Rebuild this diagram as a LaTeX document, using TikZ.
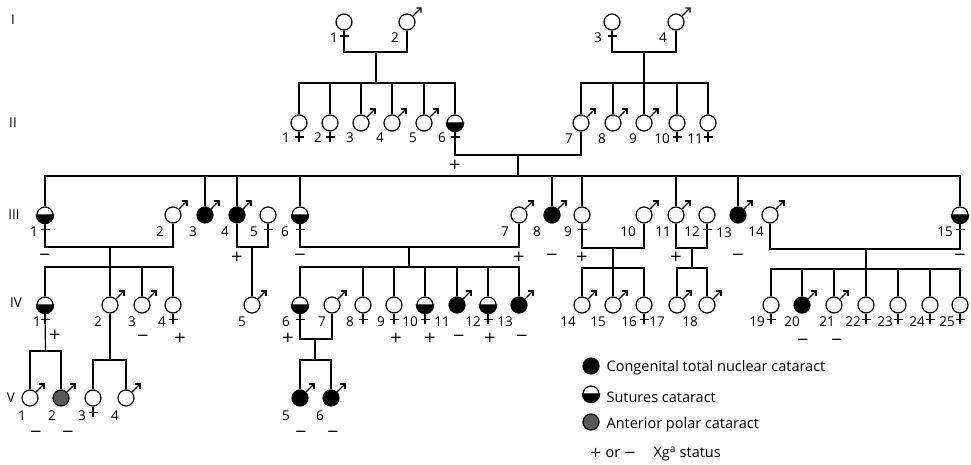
\documentclass[tikz,border=0pt]{standalone}
\usepackage{fontspec}
\setmainfont{Open Sans}
\newfontfamily\signfont{DejaVu Sans}
\usetikzlibrary{arrows.meta}

\tikzset{   person/.style={draw,circle,fill=white,minimum size=16pt,inner sep=0pt,line width=1.2pt},
            full/.style={person,fill=black},
            half/.style={person},
            polar/.style={person,fill=black!65},
            num/.style={inner sep=0pt,font=\fontsize{13.5}{15}\selectfont},
            keytext/.style={inner sep=0pt,anchor=west,font=\fontsize{14.5}{16}\selectfont},
            sign/.style={inner sep=0pt,font=\signfont\fontsize{15}{17}\selectfont},
}

\begin{document}
\begin{tikzpicture}[x=1pt,y=-1pt,line width=1.2pt]
    \useasboundingbox (0,0) rectangle (971,465);

    \node[num] (gI) at (13,20) {I};    % generation numbers
    \node[num] (gII) at (13,123) {II};
    \node[num] (gIII) at (14,215) {III};
    \node[num] (gIV) at (16,303) {IV};
    \node[num] (gV) at (11,398) {V};

    \node[person] (i1) at (344,22) {};  % generation I
    \node[person] (i2) at (407,22) {};
    \node[person] (i3) at (612,22) {};
    \node[person] (i4) at (676,22) {};

    \node[person] (ii1) at (299,123) {};  % generation II
    \node[person] (ii2) at (330,123) {};
    \node[person] (ii3) at (361,123) {};
    \node[person] (ii4) at (392,123) {};
    \node[person] (ii5) at (424,123) {};
    \node[half] (ii6) at (455,123) {};
    \node[person] (ii7) at (581,123) {};
    \node[person] (ii8) at (613,123) {};
    \node[person] (ii9) at (644,123) {};
    \node[person] (ii10) at (677,123) {};
    \node[person] (ii11) at (708,123) {};

    \node[half] (iii1) at (45,215) {};  % generation III
    \node[person] (iii2) at (173,215) {};
    \node[full] (iii3) at (205,215) {};
    \node[full] (iii4) at (237,215) {};
    \node[person] (iii5) at (268,215) {};
    \node[half] (iii6) at (300,215) {};
    \node[person] (iii7) at (519,215) {};
    \node[full] (iii8) at (552,215) {};
    \node[person] (iii9) at (582,215) {};
    \node[person] (iii10) at (644,215) {};
    \node[person] (iii11) at (676,215) {};
    \node[person] (iii12) at (707,215) {};
    \node[full] (iii13) at (738,215) {};
    \node[person] (iii14) at (770,215) {};
    \node[half] (iii15) at (960,215) {};

    \node[half] (iv1) at (45,305) {};  % generation IV
    \node[person] (iv2) at (110,305) {};
    \node[person] (iv3) at (142,305) {};
    \node[person] (iv4) at (173,305) {};
    \node[person] (iv5) at (252,305) {};
    \node[half] (iv6) at (300,305) {};
    \node[person] (iv7) at (332,305) {};
    \node[person] (iv8) at (363,305) {};
    \node[person] (iv9) at (394,305) {};
    \node[half] (iv10) at (425,305) {};
    \node[full] (iv11) at (457,305) {};
    \node[half] (iv12) at (488,305) {};
    \node[full] (iv13) at (519,305) {};
    \node[person] (iv14) at (582,305) {};
    \node[person] (iv15) at (613,305) {};
    \node[person] (iv16) at (644,305) {};
    \node[person] (iv17) at (677,305) {};
    \node[person] (iv18) at (707,305) {};
    \node[person] (iv19) at (771,305) {};
    \node[full] (iv20) at (802,305) {};
    \node[person] (iv21) at (834,305) {};
    \node[person] (iv22) at (866,305) {};
    \node[person] (iv23) at (898,305) {};
    \node[person] (iv24) at (930,305) {};
    \node[person] (iv25) at (960,305) {};

    \node[person] (v1) at (30,398) {};  % generation V
    \node[polar] (v2) at (61,398) {};
    \node[person] (v3) at (93,398) {};
    \node[person] (v4) at (126,398) {};
    \node[full] (v5) at (300,398) {};
    \node[full] (v6) at (331,398) {};

    \node[full] (k1) at (591,366) {};   % key symbols
    \node[half] (k2) at (591,394) {};
    \node[polar] (k3) at (591,422) {};

    % sutures: lower half black
    \foreach \n in {ii6,iii1,iii6,iii15,iv1,iv6,iv10,iv12,k2}
        \draw[fill=black] (\n.west) arc[start angle=180,end angle=0,radius=8.6] -- cycle;

    % female crosses and male arrows
    \foreach \n in {i1,i3,ii1,ii2,ii6,ii10,ii11,iii1,iii5,iii6,iii9,iii12,iii15,iv1,iv4,iv6,iv8,iv9,iv10,iv12,iv16,iv19,iv22,iv23,iv24,iv25,v3}
        \draw (\n.south) -- ++(0,10) ++(-4.5,-4.5) -- ++(9,0);
    \foreach \n in {i2,i4,ii3,ii4,ii5,ii7,ii8,ii9,iii2,iii3,iii4,iii7,iii8,iii10,iii11,iii13,iii14,iv2,iv3,iv5,iv7,iv11,iv13,iv14,iv15,iv17,iv18,iv20,iv21,v1,v2,v4,v5,v6}
        \draw[-{Straight Barb[angle=90:4.5pt]}] (\n.north east) -- ++(8.5,-8.5);

    % numbers
    \foreach \n/\x/\y/\t in {i1/334/38/1,i2/395/38/2,i3/598/38/3,i4/663/38/4,
        ii1/286/138/1,ii2/318/138/2,ii3/350/138/3,ii4/380/138/4,ii5/413/138/5,ii6/442/138/6,
        ii7/569/139/7,ii8/602/139/8,ii9/633/139/9,ii10/662/139/10,ii11/695/139/11,
        iii1/34/232/1,iii2/160/232/2,iii3/193/232/3,iii4/225/232/4,iii5/254/232/5,iii6/285/232/6,
        iii7/505/232/7,iii8/537/232/8,iii9/568/232/9,iii10/628/232/10,iii11/663/232/11,
        iii12/692/232/12,iii13/724/233/13,iii14/756/232/14,iii15/945/232/15,
        iv1/37/322/1,iv2/98/322/2,iv3/132/322/3,iv4/162/322/4,iv5/242/322/5,iv6/286/322/6,
        iv7/322/322/7,iv8/350/322/8,iv9/381/322/9,iv10/410/322/10,iv11/442/322/11,iv12/473/322/12,
        iv13/505/322/13,iv14/568/322/14,iv15/598/322/15,iv16/629/322/16,iv17/657/322/17,
        iv18/690/322/18,iv19/757/322/19,iv20/792/322/20,iv21/827/322/21,iv22/853/322/22,
        iv23/885/322/23,iv24/917/322/24,iv25/947/322/25,
        v1/22/416/1,v2/52/416/2,v3/82/416/3,v4/115/416/4,v5/286/416/5,v6/320/416/6}
        \node[num] (n\n) at (\x,\y) {\t};

    % Xg status
    \foreach \n/\x/\y/\s in {ii6/455/165/+,iii1/45/257/−,iii4/237/257/+,iii6/300/257/−,
        iii7/519/257/+,iii8/552/257/−,iii9/582/257/+,iii11/676/257/+,iii13/738/257/−,
        iii15/960/257/−,iv1/55/335/+,iv3/143/338/−,iv4/180/338/+,iv6/288/338/+,
        iv9/396/338/+,iv10/430/338/+,iv11/459/338/−,iv12/490/338/+,iv13/522/338/−,
        iv20/803/342/−,iv21/837/342/−,v1/36/434/−,v2/68/434/−,v5/301/434/−,v6/333/434/−}
        \node[sign] (x\n) at (\x,\y) {\s};

    % generation I to II
    \coordinate (mI1) at (376,52);
    \coordinate (sI1) at (376,83);
    \draw (i1.south) |- (mI1) -| (i2.south);
    \draw (mI1) -- (sI1);
    \draw (ii1.north) |- (sI1) -| (ii6.north);
    \foreach \n in {ii2,ii3,ii4,ii5} \draw (\n.north) -- (\n.north |- sI1);

    \coordinate (mI2) at (644,52);
    \coordinate (sI2) at (644,83);
    \draw (i3.south) |- (mI2) -| (i4.south);
    \draw (mI2) -- (ii9.north);
    \draw (ii7.north) |- (sI2) -| (ii11.north);
    \foreach \n in {ii8,ii10} \draw (\n.north) -- (\n.north |- sI2);

    % generation II to III
    \coordinate (mII) at (518,155);
    \coordinate (sII) at (518,176);
    \draw (ii6.south) |- (mII) -| (ii7.south);
    \draw (mII) -- (sII);
    \draw (iii1.north) |- (sII) -| (iii15.north);
    \foreach \n in {iii3,iii4,iii6,iii8,iii9,iii11,iii13} \draw (\n.north) -- (\n.north |- sII);

    % generation III to IV
    \coordinate (mIII1) at (110,247);
    \coordinate (sIII1) at (110,267);
    \draw (iii1.south) |- (mIII1) -| (iii2.south);
    \draw (mIII1) -- (iv2.north);
    \draw (iv1.north) |- (sIII1) -| (iv4.north);
    \draw (iv3.north) -- (iv3.north |- sIII1);

    \coordinate (mIII2) at (252,247);
    \draw (iii4.south) |- (mIII2) -| (iii5.south);
    \draw (mIII2) -- (iv5.north);

    \coordinate (mIII3) at (409,247);
    \coordinate (sIII3) at (409,267);
    \draw (iii6.south) |- (mIII3) -| (iii7.south);
    \draw (mIII3) -- (sIII3);
    \draw (iv6.north) |- (sIII3) -| (iv13.north);
    \foreach \n in {iv8,iv9,iv10,iv11,iv12} \draw (\n.north) -- (\n.north |- sIII3);

    \coordinate (mIII4) at (613,248);
    \coordinate (sIII4) at (613,268);
    \draw (iii9.south) |- (mIII4) -| (iii10.south);
    \draw (mIII4) -- (iv15.north);
    \draw (iv14.north) |- (sIII4) -| (iv16.north);

    \coordinate (mIII5) at (692,248);
    \coordinate (sIII5) at (692,268);
    \draw (iii11.south) |- (mIII5) -| (iii12.south);
    \draw (mIII5) -- (sIII5);
    \draw (iv17.north) |- (sIII5) -| (iv18.north);

    \coordinate (mIII6) at (866,249);
    \coordinate (sIII6) at (866,269);
    \draw (iii14.south) |- (mIII6) -| (iii15.south);
    \draw (mIII6) -- (iv22.north);
    \draw (iv19.north) |- (sIII6) -| (iv25.north);
    \foreach \n in {iv20,iv21,iv23,iv24} \draw (\n.north) -- (\n.north |- sIII6);

    % generation IV to V
    \coordinate (sIV1) at (45.5,351);
    \draw (iv1.south) -- (sIV1);
    \draw (v1.north) |- (sIV1) -| (v2.north);

    \coordinate (sIV2) at (110,360);
    \draw (iv2.south) -- (sIV2);
    \draw (v3.north) |- (sIV2) -| (v4.north);

    \coordinate (mIV) at (315,339);
    \coordinate (sIV3) at (315,360);
    \draw (iv6.south) |- (mIV) -| (iv7.south);
    \draw (mIV) -- (sIV3);
    \draw (v5.north) |- (sIV3) -| (v6.north);

    % key
    \node[keytext] (t1) at (606,368) {Congenital total nuclear cataract};
    \node[keytext] (t2) at (606,397) {Sutures cataract};
    \node[keytext] (t3) at (606,425) {Anterior polar cataract};
    \node[keytext] (t4) at (589,454) {{\signfont +} or {\signfont −}\hspace{1.2em}Xg\textsuperscript{a} status};
\end{tikzpicture}
\end{document}
